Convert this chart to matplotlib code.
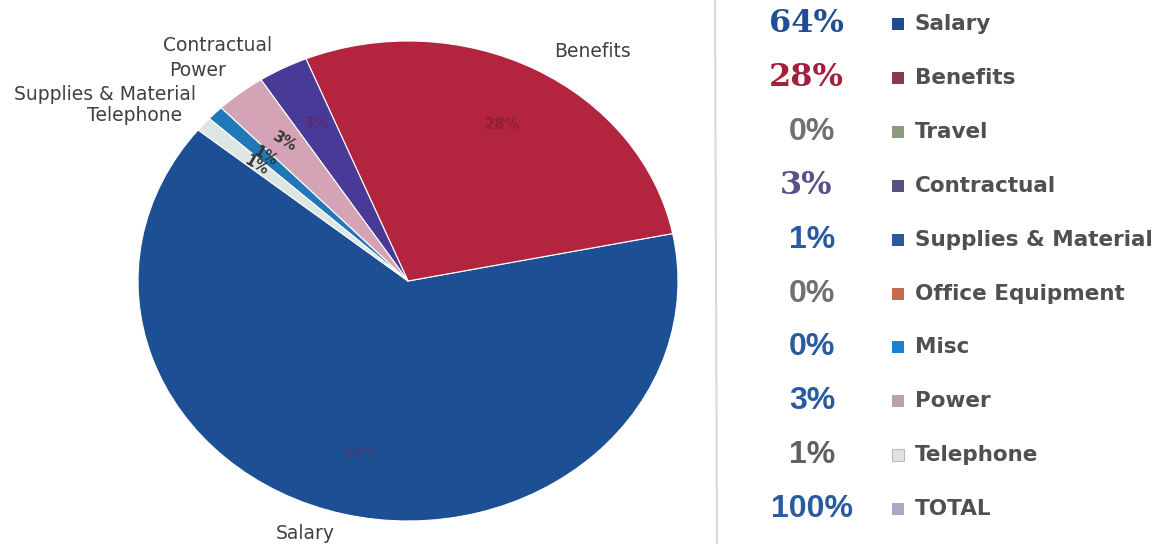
import matplotlib
matplotlib.use("Agg")
import matplotlib.pyplot as plt
import numpy as np

# ---- data ----
categories = ["Salary", "Benefits", "Travel", "Contractual", "Supplies & Material",
              "Office Equipment", "Misc", "Power", "Telephone", "TOTAL"]
percent_values = [64, 28, 0, 3, 1, 0, 0, 3, 1, 100]
percent_labels = ["64%", "28%", "0%", "3%", "1%", "0%", "0%", "3%", "1%", "100%"]

pie_order = ["Salary", "Benefits", "Contractual", "Power", "Supplies & Material", "Telephone"]
pie_values = [64, 28, 3, 3, 1, 1]
pie_pct_labels = ["64%", "28%", "3%", "3%", "1%", "1%"]

# ---- styles ----
pie_colors = {"Salary": "#1c4f93", "Benefits": "#b3243f", "Contractual": "#4a3a98",
              "Power": "#d4a4b6", "Supplies & Material": "#2178b8", "Telephone": "#dde6e2"}
pct_inside_colors = {"Salary": "#3b3f7c", "Benefits": "#8e2038", "Contractual": "#5a2a70",
                     "Power": "#333333", "Supplies & Material": "#333333", "Telephone": "#333333"}
outside_label_pos = {"Salary": (-0.381, -1.054), "Benefits": (0.685, 0.958),
                     "Contractual": (-0.704, 0.983), "Power": (-0.781, 0.875),
                     "Supplies & Material": (-1.122, 0.779), "Telephone": (-1.011, 0.690)}

legend_marker_colors = ["#1f4e8c", "#8b3a4c", "#8c9a7e", "#5a4f85", "#2a5a9a",
                        "#c86a50", "#1a80d0", "#b9a2ad", "#e2e2e2", "#a9a9c6"]
legend_pct_colors = ["#1f4e96", "#a31f3c", "#707070", "#5a4f8a", "#2a5aa0",
                     "#707070", "#2a5aa0", "#2a5aa0", "#606060", "#2a5aa0"]
legend_pct_serif = [True, True, False, True, False, False, False, False, False, False]

W, H = 1176, 544
fig = plt.figure(figsize=(W / 100, H / 100), dpi=100)
fig.patch.set_facecolor("white")

# pie axes (ellipse, matching the stretched scan)
cx, cy, rx, ry = 408, 281, 270, 240
ax = fig.add_axes([(cx - rx) / W, (H - cy - ry) / H, 2 * rx / W, 2 * ry / H])
wedges, _ = ax.pie(pie_values, colors=[pie_colors[c] for c in pie_order],
                   startangle=141, counterclock=True, radius=1.0,
                   wedgeprops=dict(edgecolor="white", linewidth=0.8))
ax.set_aspect("auto")
ax.set_xlim(-1, 1)
ax.set_ylim(-1, 1)
ax.axis("off")

for w, name, lab in zip(wedges, pie_order, pie_pct_labels):
    mid = np.deg2rad((w.theta1 + w.theta2) / 2)
    r = 0.74
    ax.text(r * np.cos(mid), r * np.sin(mid), lab, ha="center", va="center",
            fontsize=10.5, color=pct_inside_colors[name], fontweight="bold",
            rotation=-30 if name in ("Power", "Supplies & Material", "Telephone") else 0)
    px, py = outside_label_pos[name]
    ax.text(px, py, name, ha="center", va="center", fontsize=13.5, color="#404040",
            clip_on=False)

# separator line
fig.add_artist(plt.Line2D([715 / W, 717 / W], [1, 0], color="#d9d9d9", linewidth=1.5))

# legend/table on right
row_y0, row_dy = 24, 53.9
for i, (cat, lab) in enumerate(zip(categories, percent_labels)):
    y = 1 - (row_y0 + i * row_dy) / H
    if legend_pct_serif[i]:
        fig.text(806 / W, y, lab, ha="center", va="center", fontsize=23,
                 family="DejaVu Serif", fontweight="bold", color=legend_pct_colors[i])
    else:
        fig.text(812 / W, y, lab, ha="center", va="center", fontsize=23,
                 family="Liberation Sans", fontweight="bold", color=legend_pct_colors[i])
    fig.patches.append(plt.Rectangle(((892) / W, y - 6 / H), 12 / W, 12 / H,
                                     transform=fig.transFigure, facecolor=legend_marker_colors[i],
                                     edgecolor="#bbbbbb" if cat == "Telephone" else "none",
                                     linewidth=0.8))
    fig.text(915 / W, y, cat, ha="left", va="center", fontsize=15.5,
             fontweight="bold", color="#505050")

fig.savefig("out.png", dpi=100, facecolor="white")
